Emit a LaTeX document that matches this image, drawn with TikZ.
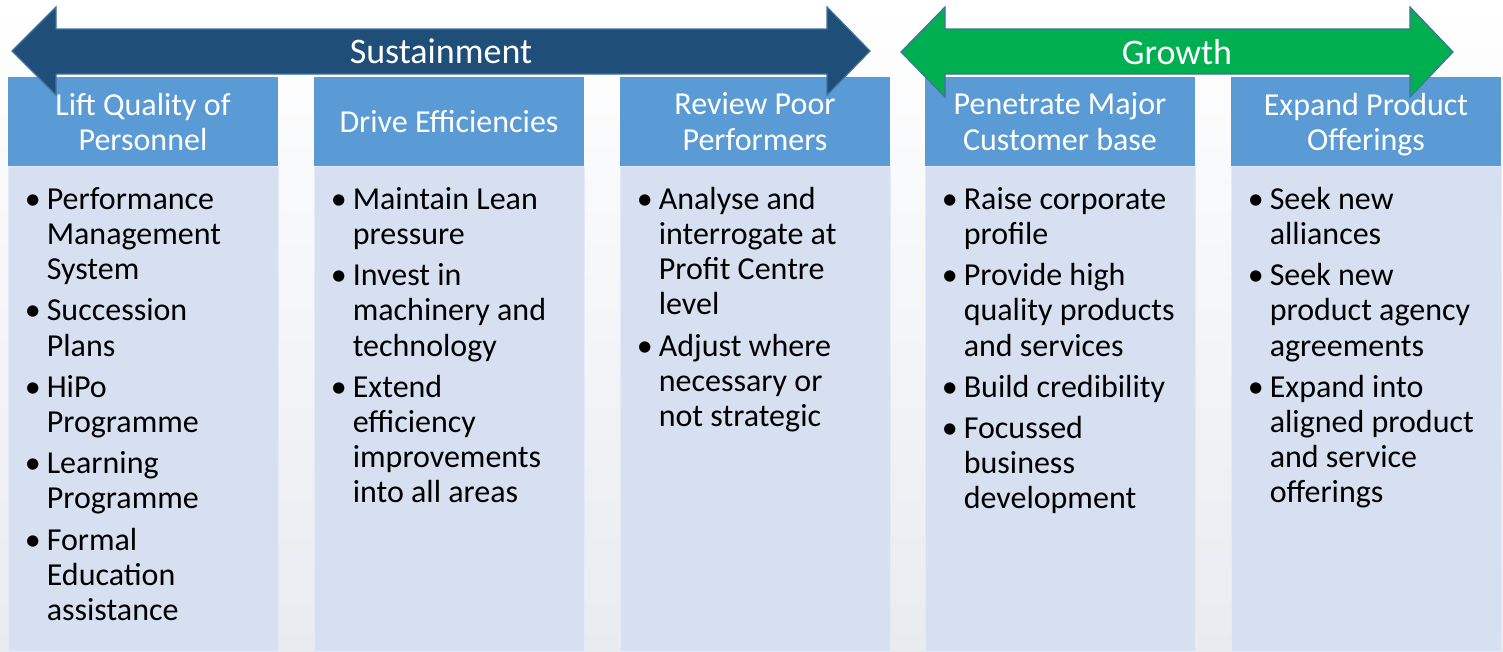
\documentclass[tikz,border=0pt]{standalone}
\usepackage{fontspec}
\setmainfont{Carlito}
\usetikzlibrary{positioning}
\definecolor{headblue}{RGB}{91,155,213}
\definecolor{bodyblue}{RGB}{214,224,240}
\definecolor{bodyedge}{RGB}{228,235,246}
\definecolor{sustblue}{RGB}{31,78,121}
\definecolor{growgreen}{RGB}{0,176,80}
\definecolor{arrowedge}{RGB}{65,113,156}
\definecolor{bgbottom}{RGB}{232,235,240}
\newcommand{\pitem}[1]{\par\hangindent=22pt\hangafter=1\noindent\makebox[22pt][l]{\textbullet}#1}
\newcommand{\plist}[1]{\parbox[t]{250pt}{\fontsize{32}{35.2}\selectfont\raggedright\parskip=6pt #1}}

\begin{document}
\begin{tikzpicture}[x=1pt,y=-1pt,
    head/.style={rectangle,fill=headblue,minimum width=270pt,minimum height=89pt,inner sep=0pt,
        text=white,align=center,text depth=0pt,font=\fontsize{32}{35.2}\selectfont},
    body/.style={rectangle,fill=bodyblue,draw=bodyedge,line width=0.8pt,minimum width=270pt,
        minimum height=485pt,inner sep=0pt},
    list/.style={anchor=base west,inner sep=0pt},
    span/.style={draw=arrowedge,line width=1.2pt,line join=miter},
    spanlabel/.style={text=white,font=\fontsize{36}{40}\selectfont,inner sep=0pt}]
    \useasboundingbox (0,0) rectangle (1503,651);
    \fill[top color=white,bottom color=bgbottom] (0,0) rectangle (1503,651);

    % column headers
    \node[head] (lift) at (143,121.5) {Lift Quality of\\Personnel};
    \node[head] (drive) at (449,121.5) {Drive Efficiencies};
    \node[head] (review) at (755,121.5) {Review Poor\\Performers};
    \node[head] (penetrate) at (1060,121.5) {Penetrate Major\\Customer base};
    \node[head] (expand) at (1366,121.5) {Expand Product\\Offerings};

    % column bodies
    \node[body,below=0pt of lift] (liftbody) {};
    \node[body,below=0pt of drive] (drivebody) {};
    \node[body,below=0pt of review] (reviewbody) {};
    \node[body,below=0pt of penetrate] (penetratebody) {};
    \node[body,below=0pt of expand] (expandbody) {};

    \node[list] (liftlist) at ([xshift=17pt,yshift=-43pt]liftbody.north west) {\plist{%
        \pitem{Performance\newline Management\newline System}
        \pitem{Succession\newline Plans}
        \pitem{HiPo\newline Programme}
        \pitem{Learning\newline Programme}
        \pitem{Formal\newline Education\newline assistance}}};
    \node[list] (drivelist) at ([xshift=17pt,yshift=-43pt]drivebody.north west) {\plist{%
        \pitem{Maintain Lean\newline pressure}
        \pitem{Invest in\newline machinery and\newline technology}
        \pitem{Extend\newline efficiency\newline improvements\newline into all areas}}};
    \node[list] (reviewlist) at ([xshift=17pt,yshift=-43pt]reviewbody.north west) {\plist{%
        \pitem{Analyse and\newline interrogate at\newline Profit Centre\newline level}
        \pitem{Adjust where\newline necessary or\newline not strategic}}};
    \node[list] (penetratelist) at ([xshift=17pt,yshift=-43pt]penetratebody.north west) {\plist{%
        \pitem{Raise corporate\newline profile}
        \pitem{Provide high\newline quality products\newline and services}
        \pitem{Build credibility}
        \pitem{Focussed\newline business\newline development}}};
    \node[list] (expandlist) at ([xshift=17pt,yshift=-43pt]expandbody.north west) {\plist{%
        \pitem{Seek new\newline alliances}
        \pitem{Seek new\newline product agency\newline agreements}
        \pitem{Expand into\newline aligned product\newline and service\newline offerings}}};

    % span arrows
    \draw[span,fill=sustblue] (12,51) -- (56,7) -- (56,29) -- (827,29) -- (827,7) -- (870,51)
        -- (827,95) -- (827,74) -- (56,74) -- (56,95) -- cycle;
    \node[spanlabel] (sust) at (441,51) {Sustainment};
    \draw[span,fill=growgreen] (901,52) -- (945,7) -- (945,29) -- (1410,29) -- (1410,7) -- (1453,52)
        -- (1410,97) -- (1410,74) -- (945,74) -- (945,97) -- cycle;
    \node[spanlabel] (growth) at (1177,52) {Growth};
\end{tikzpicture}
\end{document}
